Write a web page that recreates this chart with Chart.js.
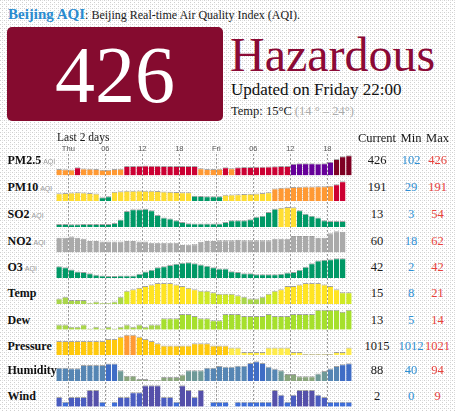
<!DOCTYPE html>
<html>
<head>
<meta charset="utf-8">
<script src="https://cdn.jsdelivr.net/npm/chart.js@4"></script>
<style>
  html, body { margin: 0; padding: 0; }
  html { background: #fff; }
  body {
    width: 456px; height: 411px; position: relative; overflow: hidden;
    background-color: #fff;
    background-image: url("data:image/svg+xml;utf8,<svg xmlns='http://www.w3.org/2000/svg' width='4' height='4'><rect x='0' y='0' width='1' height='1' fill='%23cfcfcf'/><rect x='2' y='2' width='1' height='1' fill='%23cfcfcf'/><rect x='2' y='0' width='1' height='1' fill='%23e4e4e4'/></svg>");
    font-family: 'Liberation Serif', serif;
    color: #1a1a1a;
  }
  .t { position: absolute; white-space: nowrap; line-height: 1; }
  .c { transform: translateX(-50%); }
  #box { position: absolute; left: 7px; top: 27px; width: 216px; height: 94px; background: #850b2f; border-radius: 5px; }
  #chart { position: absolute; left: 56px; top: 143px; }
  .aqi { font-family: 'Liberation Sans', sans-serif; font-size: 7px; color: #9a9a9a; font-weight: normal; margin-left: 2px; }
</style>
</head>
<body>
<div id="box"></div>
<canvas id="chart" width="296" height="264"></canvas>
<script>
// hourly slots, Wed 22:00 .. Fri 21:00
const hours = ['22','23','Thu','01','02','03','04','05','06','07','08','09','10','11','12','13','14','15','16','17','18','19','20','21','22','23',
               'Fri','01','02','03','04','05','06','07','08','09','10','11','12','13','14','15','16','17','18','19','20','21'];

const rowNames = ['PM2.5', 'PM10', 'SO2', 'NO2', 'O3', 'Temp', 'Dew', 'Pressure', 'Humidity', 'Wind'];
const current = ['426', '191', '13', '60', '42', '15', '13', '1015', '88', '2'];
const mins    = ['102', '29', '3', '18', '2', '8', '5', '1012', '40', '0'];
const maxs    = ['426', '191', '54', '62', '42', '21', '14', '1021', '94', '9'];

const pm25 = [118,115,112,162,130,125,118,105,102,120,128,185,190,195,196,195,192,190,190,188,188,185,185,
              135,122,118,125,158,140,160,163,166,170,173,176,180,185,190,240,248,250,248,245,248,285,346,404,426];
const pm10 = [70,72,78,80,76,72,66,29,40,85,90,95,96,97,96,95,92,88,84,82,80,80,45,42,40,40,38,
              55,58,60,62,64,68,72,80,118,125,128,132,135,138,138,140,140,145,160,191,null];
const so2  = [4,4,3,3,4,4,4,4,4,7,17,42,47,47,49,44,30,23,20,15,10,6,5,5,5,5,5,
              10,15,15,15,18,25,28,39,49,52,54,53,44,34,28,23,15,13,13,13,null];
const no2  = [41,41,45,41,38,31,31,29,29,29,29,31,31,29,29,25,25,25,25,25,18,19,20,28,31,31,
              33,33,33,35,33,33,33,33,33,38,38,38,47,47,47,47,41,41,55,62,60,null];
const o3   = [24,22,17,12,11,8,5,3,2,2,3,3,3,7,12,16,22,24,27,30,32,33,31,28,25,22,
              19,19,13,11,8,8,6,6,6,6,7,10,11,16,23,31,37,39,40,42,42,null];
const temp = [11,12,10,10,10,8,9,8,8,9,12,16,17,18,19,20,21,21,21,20,19,18,17,16,16,15,
              14,14,14,13,12,11,11,12,14,16,17,19,19,20,21,21,21,20,19,17,15,15];
const dew  = [7,7,6,6,7,5,6,5,6,5,6,7,6,7,6,7,7,10,10,10,12,12,11,10,10,9,
              9,12,12,12,11,11,11,11,12,11,11,11,12,12,12,12,14,14,14,14,13,14];
const pressure = [1018,1018,1018,1018,1018,1018,1018,1018,1019,1019,1020,1021,1021,1020,1019,1018,1017,
                  1016,1016,1016,1016,1016,1017,1017,1017,1016,1016,1016,1015,1015,1013,1013,1013,1013,
                  1015,1015,1015,1015,1013,1013,1012,1012,1012,1012,1012,1013,1013,1015];
const humidity = [75,75,74,74,83,83,83,83,87,87,68,52,52,43,43,40,40,49,49,49,56,68,68,68,75,75,
                  80,78,78,81,81,89,94,89,78,72,68,57,57,51,51,51,59,66,73,80,85,88];
const wind = [4,2,4,4,4,7,7,2,0,2,4,4,6,6,9,9,9,4,4,2,9,7,4,7,0,2,
              2,2,0,2,2,2,2,2,2,7,5,2,5,7,7,7,5,4,2,2,2,2];

// per-row value axis range (bars rise from scaleMin)
const scaleMin = [-25, -11.4, -4.7, -6.4, -3.2, 7.35, 4.62, 1011.4, 37.2, -0.2];
const scaleMax = [464, 249, 70.8, 75.6, 55, 24.07, 16.7, 1023.3, 110.4, 10.85];

function aqiColor(v) {
  if (v <= 50) return '#009966';
  if (v <= 100) return '#ffde33';
  if (v <= 150) return '#ff9933';
  if (v <= 200) return '#cc0033';
  if (v <= 300) return '#660099';
  return '#7e0023';
}
const colorFns = [
  aqiColor, aqiColor, aqiColor,
  () => '#aaaaaa',
  aqiColor,
  v => v <= 12 ? '#a9d64a' : v <= 16 ? '#cfe925' : '#ffe422',
  v => v <= 8 ? '#a9d64a' : '#a6e02c',
  v => v >= 1021 ? '#ff9a33' : v >= 1016 ? '#ffc90d' : '#ffec4a',
  v => v >= 85 ? '#3f6dc6' : v >= 70 ? '#5686b4' : v >= 58 ? '#6f9a98' : '#8aa67c',
  v => v >= 7 ? '#5550aa' : v >= 4 ? '#4a5cc0' : '#3e6dd8'
];
const series = [pm25, pm10, so2, no2, o3, temp, dew, pressure, humidity, wind];

// text
const baselines = [164, 191.5, 218, 245.5, 271, 297.5, 324, 350, 374.5, 400];
function put(html, x, base, size, style, center) {
  const el = document.createElement('div');
  el.className = 't' + (center ? ' c' : '');
  el.innerHTML = html;
  el.style.left = x + 'px';
  el.style.top = (base - 0.84 * size) + 'px';
  el.style.fontSize = size + 'px';
  Object.assign(el.style, style || {});
  document.body.appendChild(el);
}
put('<span style="color:#2a8bd0;font-weight:bold;font-size:15px">Beijing AQI</span>: Beijing Real-time Air Quality Index (AQI).', 8, 16.7, 12);
put('426', 115, 101.7, 80, {color: '#fff'}, true);
put('Hazardous', 230, 71.7, 48, {color: '#8b0a36'});
put('Updated on Friday 22:00', 231, 95.5, 17, {color: '#111'});
put('Temp: 15°C <span style="color:#aaa">(14 ° – 24°)</span>', 231, 115, 12.5);
put('Last 2 days', 57, 142, 11.5);
put('Current', 377, 142.3, 12.5, null, true);
put('Min', 411, 142.3, 12.5, null, true);
put('Max', 437.5, 142.3, 12.5, null, true);
rowNames.forEach((n, k) => {
  put(n + (k < 5 ? '<span class="aqi">AQI</span>' : ''), 7.5, baselines[k], 12, {fontWeight: 'bold', color: '#111'});
  put(current[k], 377, baselines[k], 12.5, {color: '#1a1a1a'}, true);
  put(mins[k], 411, baselines[k], 12.5, {color: '#2e8fd4'}, true);
  put(maxs[k], 437.5, baselines[k], 12.5, {color: '#e8413c'}, true);
});

// chart
const scales = {
  x: {
    type: 'category', position: 'top', offset: true,
    grid: {
      drawTicks: false, offset: true, lineWidth: 1,
      color: ctx => (ctx.index % 6 === 2 ? '#9a9a9a' : 'rgba(0,0,0,0)')
    },
    border: { display: false, dash: [2, 2] },
    ticks: {
      autoSkip: false, maxRotation: 0, padding: 0, labelOffset: -3.08, color: '#555',
      font: { family: 'Liberation Sans', size: 7.5 },
      callback: (v, i) => (i % 6 === 2 ? hours[i] : '')
    }
  }
};
const datasets = series.map((vals, k) => {
  const id = 'y' + k;
  scales[id] = {
    type: 'linear', display: false, position: 'left', stack: 'rows',
    stackWeight: k === 0 ? 0.854 : 1, weight: 10 - k,
    min: scaleMin[k], max: scaleMax[k]
  };
  return {
    label: rowNames[k], data: vals, yAxisID: id, xAxisID: 'x',
    base: scaleMin[k], grouped: false,
    backgroundColor: vals.map(v => (v == null ? 'rgba(0,0,0,0)' : colorFns[k](v))),
    borderColor: 'rgba(80,80,80,0.5)',
    borderWidth: { top: 1, left: 0, right: 0, bottom: 0 },
    borderSkipped: 'start',
    categoryPercentage: 1, barPercentage: 0.89
  };
});

new Chart(document.getElementById('chart').getContext('2d'), {
  type: 'bar',
  data: { labels: hours, datasets: datasets },
  options: {
    responsive: false, animation: false,
    layout: { padding: { top: 1.6, bottom: 0.25, left: 0, right: 0 } },
    scales: scales,
    plugins: { legend: { display: false }, tooltip: { enabled: false } }
  }
});
</script>
</body>
</html>
